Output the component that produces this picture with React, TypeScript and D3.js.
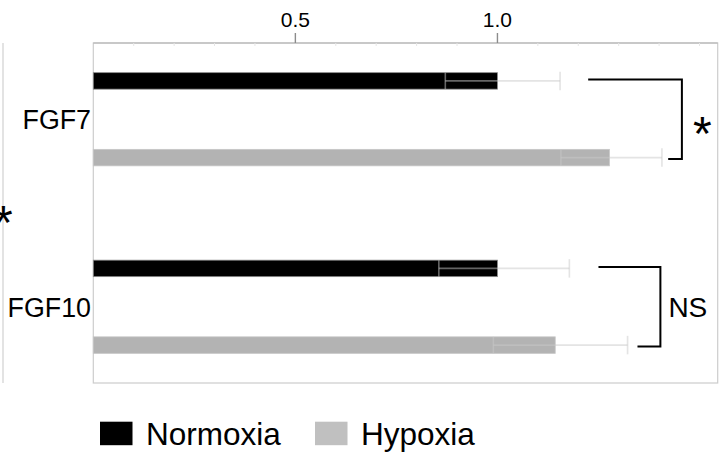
import React from "react";
import * as d3 from "d3";

const categories = ["FGF7", "FGF10"];
const seriesNames = ["Normoxia", "Hypoxia"];
const normoxiaValues = [1.0, 1.0];
const hypoxiaValues = [1.277, 1.143];
const normoxiaLow = [0.871, 0.855];
const normoxiaHigh = [1.155, 1.178];
const hypoxiaLow = [1.157, 0.99];
const hypoxiaHigh = [1.407, 1.322];
const majorTicks = [0.5, 1.0];
const majorTickLabels = ["0.5", "1.0"];
const minorTicks = [0.1, 0.2, 0.3, 0.4, 0.6, 0.7, 0.8, 0.9, 1.1, 1.2, 1.3, 1.4, 1.5];
const sigLabels = ["*", "NS"];
const bracketTopStart = [1.2245, 1.25];
const bracketBottomStart = [1.4225, 1.3465];
const bracketX = [1.4564, 1.4032];

const W = 720;
const H = 457;
const FONT = "'Liberation Sans', Arial, Helvetica, sans-serif";
const colors = ["#000000", "#b3b3b3"];
const legendColors = ["#000000", "#c0c0c0"];

export default function App() {
  const left = 93.3;
  const right = 717.7;
  const top = 43;
  const bottom = 383;
  const x = d3.scaleLinear().domain([0, 1.545]).range([left, right]);
  const y0 = d3.scaleBand<string>().domain(categories).range([top, bottom]).paddingInner(0.4).paddingOuter(0.1067);
  const y1 = d3
    .scaleBand<string>()
    .domain(seriesNames)
    .range([0, y0.bandwidth()])
    .paddingInner(0.785)
    .paddingOuter(0.1259);
  const bw = y1.bandwidth();

  const values = [normoxiaValues, hypoxiaValues];
  const lows = [normoxiaLow, hypoxiaLow];
  const highs = [normoxiaHigh, hypoxiaHigh];

  return (
    <div style={{ position: "absolute", left: 0, top: 0 }}>
      <svg width={W} height={H} style={{ display: "block", fontFamily: FONT }}>
        <rect x={0} y={0} width={W} height={H} fill="#fff" />
        {/* cropped neighbouring panel */}
        <line x1={3} x2={3} y1={top} y2={bottom} stroke="#d0d0d0" strokeWidth={1.2} />
        <text x={-6} y={239} fontSize={48} fill="#000">*</text>

        {/* frame */}
        <rect x={left} y={top} width={right - left} height={bottom - top} fill="none" stroke="#cccccc" strokeWidth={1.2} />
        <line x1={left} x2={right} y1={top} y2={top} stroke="#b0b0b0" strokeWidth={1.2} />
        {minorTicks.map((t) => (
          <line key={"m" + t} x1={x(t)} x2={x(t)} y1={top} y2={top + 3} stroke="#e6e6e6" strokeWidth={1} />
        ))}
        {majorTicks.map((t, i) => (
          <g key={"t" + t}>
            <line x1={x(t)} x2={x(t)} y1={top - 10} y2={top} stroke="#8c8c8c" strokeWidth={1.4} />
            <text x={x(t)} y={27.3} fontSize={21} textAnchor="middle" fill="#000">
              {majorTickLabels[i]}
            </text>
          </g>
        ))}

        {categories.map((c, ci) => {
          const gy = y0(c)!;
          const centerY = gy + y0.bandwidth() / 2;
          const yN = gy + y1(seriesNames[0])! + bw / 2;
          const yH = gy + y1(seriesNames[1])! + bw / 2;
          return (
            <g key={c}>
              <text x={91} y={centerY + 9.8} fontSize={26.8} textAnchor="end" fill="#000">
                {c}
              </text>
              {seriesNames.map((s, si) => {
                const by = gy + y1(s)!;
                const v = values[si][ci];
                const lo = lows[si][ci];
                const hi = highs[si][ci];
                const cy = by + bw / 2;
                return (
                  <g key={s}>
                    <rect
                      x={x(0)}
                      y={by}
                      width={x(v) - x(0)}
                      height={bw}
                      fill={colors[si]}
                      stroke={si === 0 ? "#8a8a8a" : "#c6c6c6"}
                      strokeWidth={0.8}
                    />
                    <g stroke="#cacaca" strokeOpacity={0.5} strokeWidth={1.6}>
                      <line x1={x(lo)} x2={x(hi)} y1={cy} y2={cy} />
                      <line x1={x(lo)} x2={x(lo)} y1={by} y2={by + bw} />
                      <line x1={x(hi)} x2={x(hi)} y1={by - 1} y2={by + bw + 1} />
                    </g>
                  </g>
                );
              })}
              <path
                d={`M${x(bracketTopStart[ci])},${yN - 1.5}H${x(bracketX[ci])}V${yH + 1.5}H${x(bracketBottomStart[ci])}`}
                fill="none"
                stroke="#000"
                strokeWidth={2}
              />
              {sigLabels[ci] === "*" ? (
                <text x={x(bracketX[ci]) + 11} y={centerY + 31} fontSize={48} fill="#000">
                  *
                </text>
              ) : (
                <text x={x(bracketX[ci]) + 8} y={centerY + 10.2} fontSize={28} fill="#000">
                  {sigLabels[ci]}
                </text>
              )}
            </g>
          );
        })}

        {/* legend */}
        {seriesNames.map((s, i) => {
          const lx = [100, 315][i];
          return (
            <g key={"lg" + s}>
              <rect x={lx} y={421.7} width={32.5} height={23.5} fill={legendColors[i]} />
              <text x={lx + 46} y={445} fontSize={31.5} fill="#000">
                {s}
              </text>
            </g>
          );
        })}
      </svg>
    </div>
  );
}
